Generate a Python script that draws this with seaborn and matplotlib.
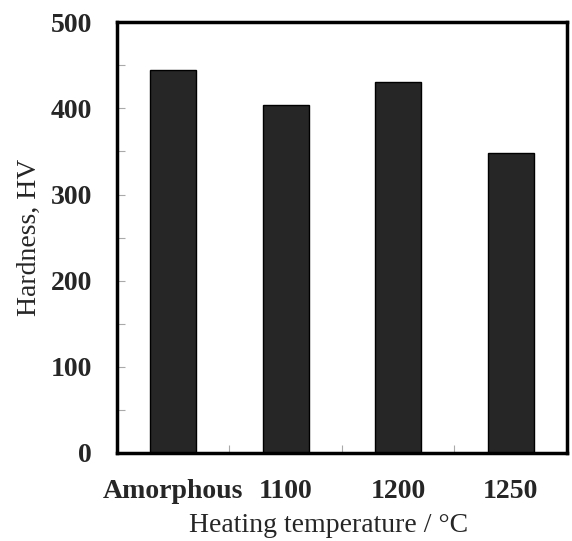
import matplotlib
matplotlib.use("Agg")
import matplotlib.pyplot as plt
from matplotlib.ticker import MultipleLocator, FixedLocator
import seaborn as sns
import pandas as pd

# data
categories = ['Amorphous', '1100', '1200', '1250']
hardness = [444, 404, 430, 348]

df = pd.DataFrame({'Condition': categories, 'Hardness': hardness})

sns.set_style('white')
plt.rcParams['font.family'] = ['Liberation Serif', 'DejaVu Serif']
plt.rcParams['xtick.bottom'] = True
plt.rcParams['ytick.left'] = True

fig = plt.figure(figsize=(5.72, 5.41), dpi=100)
ax = fig.add_axes([0.2045, 0.1627, 0.7865, 0.7963])

sns.barplot(data=df, x='Condition', y='Hardness', color='#262626',
            saturation=1, width=0.41, edgecolor='black', linewidth=1, ax=ax)

ax.set_xlim(-0.5, 3.5)
ax.set_ylim(0, 500)

# major y ticks with labels, minor every 50, all grey and inward
ax.yaxis.set_major_locator(MultipleLocator(100))
ax.yaxis.set_minor_locator(MultipleLocator(50))
ax.xaxis.set_minor_locator(FixedLocator([0.5, 1.5, 2.5]))
ax.tick_params(axis='y', which='both', left=True, direction='in', length=6,
               width=0.8, color='#aaaaaa', pad=18, labelsize=20)
ax.tick_params(axis='x', which='major', length=0, pad=19, labelsize=20)
ax.tick_params(axis='x', which='minor', bottom=True, direction='in',
               length=6, width=0.8, color='#aaaaaa')
for lab in ax.get_xticklabels() + ax.get_yticklabels():
    lab.set_fontweight('bold')

for s in ax.spines.values():
    s.set_visible(True)
    s.set_color('black')
    s.set_linewidth(2.5)

ax.set_xlabel('Heating temperature / °C', fontsize=20)
ax.xaxis.set_label_coords(0.471, -0.14)
ax.set_ylabel('Hardness, HV', fontsize=20)
ax.yaxis.set_label_coords(-0.167, 0.5)

fig.savefig('out.png', dpi=100)
